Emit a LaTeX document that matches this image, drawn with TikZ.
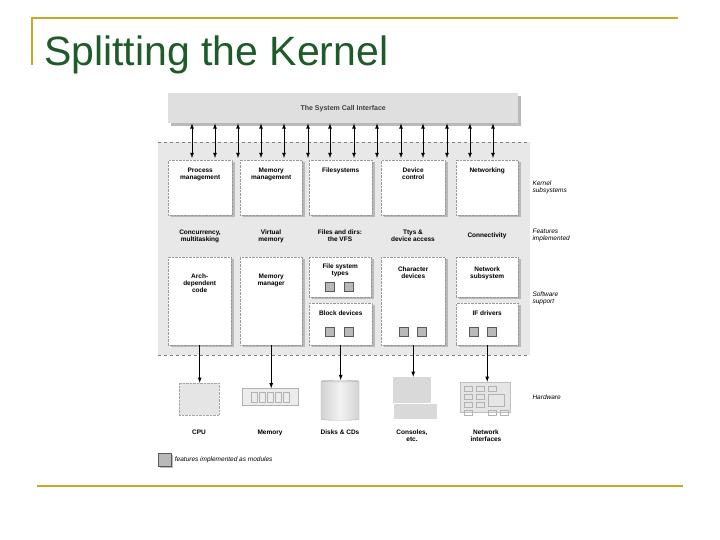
\documentclass[tikz,border=0pt]{standalone}
\usepackage{fontspec}
\setmainfont{Liberation Sans}
\usepackage{tikz}
\usetikzlibrary{positioning,shapes,shadows,arrows}
\definecolor{gold}{HTML}{C8A82A}
\definecolor{titlegreen}{HTML}{1F5A2A}
\tikzstyle{sub}=[rectangle, draw=gray!80, densely dotted, fill=white, anchor=north west,
general shadow={fill=gray!55, shadow xshift=3pt, shadow yshift=-2pt},
font=\fontsize{6.5}{7}\selectfont\bfseries, align=center, inner sep=0pt]
\tikzstyle{side}=[anchor=west, font=\fontsize{6.5}{7}\selectfont\itshape, align=left]
\tikzstyle{feat}=[font=\fontsize{6.5}{7}\selectfont\bfseries, align=center]
\tikzstyle{mod}=[rectangle, draw=gray!70!black, fill=gray!55, minimum size=9pt, inner sep=0pt]
\tikzstyle{hw}=[font=\fontsize{6.5}{7}\selectfont\bfseries, align=center, anchor=north]
\begin{document}
\begin{tikzpicture}[x=1pt,y=-1pt]
    \useasboundingbox (0,0) rectangle (720,540);
    % slide frame
    \draw [gold, line width=1.5pt] (32,65) -- (32,18) -- (678,18);
    \draw [gold, line width=1.5pt] (37,486) -- (683,486);
    \node (title)[anchor=base west, text=titlegreen, font=\fontsize{41}{42}\selectfont, inner sep=0pt] at (44,66) {Splitting the Kernel};
    % kernel area
    \fill [gray!18] (158,142) rectangle (530,355);
    \draw [gray, dashed, thick] (158,142) -- (530,142);
    \draw [gray, dashed, thick] (158,355) -- (530,355);
    \node (sci)[rectangle, fill=gray!25, anchor=north west, minimum width=350pt, minimum height=30pt,
        general shadow={fill=gray!55, shadow xshift=3pt, shadow yshift=-3pt},
        font=\fontsize{7}{8}\selectfont\bfseries, text=gray!50!black] at (168,93) {The System Call Interface};
    \foreach \x in {192,215,238,261,284,308,330,354,377,401,423,447,470,493}
        {
        \coordinate (a\x) at (\x,158);
        \draw [<->, >=latex, thick] (sci.south -| a\x) -- (a\x);
        }
    % kernel subsystems
    \node (pm)[sub, minimum width=64pt, minimum height=55pt] at (168,160) {};
    \node [feat, anchor=north] at (pm.north |- 0,164) {Process\\management};
    \node (mm)[sub, minimum width=62pt, minimum height=55pt] at (240,160) {};
    \node [feat, anchor=north] at (mm.north |- 0,164) {Memory\\management};
    \node (fs)[sub, minimum width=63pt, minimum height=55pt] at (309,160) {};
    \node [feat, anchor=north] at (fs.north |- 0,164) {Filesystems};
    \node (dc)[sub, minimum width=64pt, minimum height=55pt] at (381,160) {};
    \node [feat, anchor=north] at (dc.north |- 0,164) {Device\\control};
    \node (nw)[sub, minimum width=62pt, minimum height=55pt] at (456,160) {};
    \node [feat, anchor=north] at (nw.north |- 0,164) {Networking};
    % features
    \node (f1)[feat] at (200,236) {Concurrency,\\multitasking};
    \node (f2)[feat] at (271,236) {Virtual\\memory};
    \node (f3)[feat] at (340,236) {Files and dirs:\\the VFS};
    \node (f4)[feat] at (413,236) {Ttys \&\\device access};
    \node (f5)[feat] at (487,236) {Connectivity};
    % software support
    \node (ad)[sub, minimum width=63pt, minimum height=88pt] at (168,257) {};
    \node [feat, anchor=north] at (ad.north |- 0,270) {Arch-\\dependent\\code};
    \node (mg)[sub, minimum width=62pt, minimum height=88pt] at (240,257) {};
    \node [feat, anchor=north] at (mg.north |- 0,270) {Memory\\manager};
    \node (ft)[sub, minimum width=62pt, minimum height=40pt] at (309,257) {};
    \node [feat, anchor=north] at (ft.north |- 0,260) {File system\\types};
    \node (bd)[sub, minimum width=63pt, minimum height=42pt] at (309,303) {};
    \node [feat, anchor=north] at (bd.north |- 0,307) {Block devices};
    \node (cd)[sub, minimum width=64pt, minimum height=88pt] at (381,257) {};
    \node [feat, anchor=north] at (cd.north |- 0,263) {Character\\devices};
    \node (ns)[sub, minimum width=62pt, minimum height=40pt] at (456,257) {};
    \node [feat, anchor=north] at (ns.north |- 0,263) {Network\\subsystem};
    \node (ifd)[sub, minimum width=62pt, minimum height=42pt] at (456,303) {};
    \node [feat, anchor=north] at (ifd.north |- 0,307) {IF drivers};
    % modules
    \foreach \x/\y in {330/287,349/287,330/332,349/332,404/332,422/332,474/332,492/332}
        \node [mod] at (\x,\y) {};
    % side labels
    \node (l1)[side] at (529,187) {Kernel\\subsystems};
    \node (l2)[side] at (529,235) {Features\\implemented};
    \node (l3)[side] at (529,298) {Software\\support};
    \node (l4)[side] at (529,397) {Hardware};
    % hardware
    \node (cpu)[rectangle, draw=gray!70, densely dotted, fill=gray!20, minimum width=40pt, minimum height=32pt] at (199,399) {};
    \node (mem)[rectangle, draw=gray!60, fill=gray!15, minimum width=56pt, minimum height=17pt] at (270,397) {};
    \foreach \i in {0,...,4}
        \draw [gray!60] (251+\i*8,392) rectangle (257+\i*8,402);
    \node (disk)[cylinder, shape border rotate=90, aspect=0.25, draw=gray!60,
        left color=gray!35, right color=gray!35, middle color=gray!10,
        minimum width=38pt, minimum height=40pt] at (340,401) {};
    \node (con)[rectangle, fill=gray!30, minimum width=38pt, minimum height=26pt] at (412,390) {};
    \fill [gray!30] (394,404) rectangle (437,419);
    \node (net)[rectangle, fill=gray!20, draw=gray!50, minimum width=50pt, minimum height=30pt] at (485,397) {};
    \foreach \x/\y in {464/386,476/386,488/386,464/394,476/394,464/402,476/402,464/410,488/410,500/410}
        \draw [gray!60] (\x,\y) rectangle (\x+8,\y+5);
    \draw [gray!60] (488,394) rectangle (504,406);
    \foreach \src/\dst in {ad/cpu,mg/mem,bd/disk,cd/con,ifd/net}
        \draw [->, >=latex, thick] (\src.south) -- (\dst.north -| \src.south);
    \node (h1)[hw] at (199,426) {CPU};
    \node (h2)[hw] at (270,426) {Memory};
    \node (h3)[hw] at (340,426) {Disks \& CDs};
    \node (h4)[hw] at (412,426) {Consoles,\\etc.};
    \node (h5)[hw] at (486,426) {Network\\interfaces};
    % legend
    \node (leg)[mod, minimum size=13pt, anchor=north west,
        general shadow={fill=gray!55, shadow xshift=2pt, shadow yshift=-2pt}] at (158,453) {};
    \node [side] at (leg.east) {features implemented as modules};
\end{tikzpicture}
\end{document}
